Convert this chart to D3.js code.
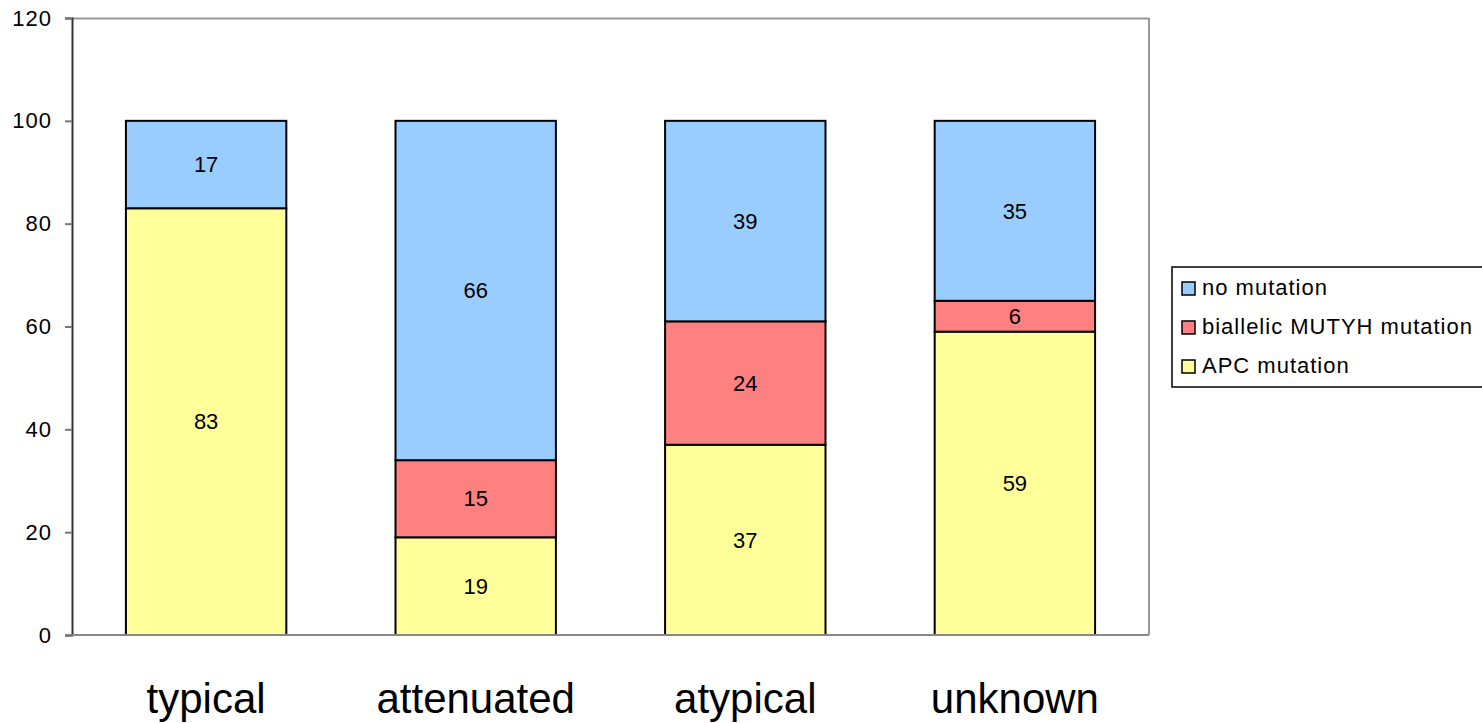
<!DOCTYPE html>
<html><head><meta charset="utf-8">
<script src="https://cdn.jsdelivr.net/npm/d3@7"></script>
<style>body{margin:0;background:#fff}svg{display:block}text{font-family:"Liberation Sans",Arial,sans-serif}</style>
</head><body><svg id="c" width="1482" height="723"></svg>
<script>
const categories = ["typical","attenuated","atypical","unknown"];
const apc = [83,19,37,59];
const mutyh = [0,15,24,6];
const none = [17,66,39,35];
const seriesNames = ["APC mutation","biallelic MUTYH mutation","no mutation"];
const seriesColors = ["#FFFF99","#FF8080","#99CCFF"];
const yTicks = [0,20,40,60,80,100,120];

const svg = d3.select("#c");
const L=72, R=1149, T=18, B=635;
const x = d3.scaleBand().domain(categories).range([L,R]).paddingInner(0.405).paddingOuter(0.2);
const y = d3.scaleLinear().domain([0,120]).range([B,T]);

const rows = categories.map((c,i)=>({cat:c, apc:apc[i], mutyh:mutyh[i], none:none[i]}));
const stack = d3.stack().keys(["apc","mutyh","none"])(rows);

// plot frame
svg.append("line").attr("x1",L).attr("x2",R).attr("y1",T+0.5).attr("y2",T+0.5).attr("stroke","#999").attr("stroke-width",2);
svg.append("line").attr("x1",R).attr("x2",R).attr("y1",T).attr("y2",B).attr("stroke","#999").attr("stroke-width",2);

stack.forEach((s,si)=>{
  svg.append("g").selectAll("rect").data(s.filter(d=>d[1]-d[0]>0)).join("rect")
    .attr("x",d=>x(d.data.cat)).attr("width",x.bandwidth())
    .attr("y",d=>y(d[1])).attr("height",d=>y(d[0])-y(d[1]))
    .attr("fill",seriesColors[si]).attr("stroke","#000").attr("stroke-width",2);
  svg.append("g").selectAll("text").data(s.filter(d=>d[1]-d[0]>0)).join("text")
    .attr("x",d=>x(d.data.cat)+x.bandwidth()/2).attr("y",d=>(y(d[0])+y(d[1]))/2)
    .attr("dy","0.35em").attr("text-anchor","middle").attr("font-size",22).attr("fill","#000")
    .text(d=>d[1]-d[0]);
});

// axes
const ya = svg.append("g").attr("transform",`translate(${L},0)`)
  .call(d3.axisLeft(y).tickValues(yTicks).tickSize(7).tickPadding(13));
ya.select(".domain").attr("stroke","#333").attr("stroke-width",2);
ya.selectAll(".tick line").attr("stroke","#777").attr("stroke-width",2);
ya.selectAll(".tick text").attr("font-size",22).attr("letter-spacing","1px").attr("fill","#000").style("font-family","'Liberation Sans',Arial,sans-serif");

const xa = svg.append("g").attr("transform",`translate(0,${B})`)
  .call(d3.axisBottom(x).tickSize(0));
xa.select(".domain").attr("stroke","#888").attr("stroke-width",2).attr("d",`M${L},0H${R}`);
xa.selectAll(".tick text").attr("y",78).attr("dy",null).attr("font-size",42).attr("fill","#000").style("font-family","'Liberation Sans',Arial,sans-serif");

// legend
const lg = svg.append("g");
lg.append("rect").attr("x",1172).attr("y",267).attr("width",320).attr("height",120).attr("fill","#fff").attr("stroke","#000").attr("stroke-width",1.5);
const legendOrder = [2,1,0];
legendOrder.forEach((si,k)=>{
  const yy = 288 + k*39;
  lg.append("rect").attr("x",1182).attr("y",yy-6).attr("width",13).attr("height",13).attr("fill",seriesColors[si]).attr("stroke","#000").attr("stroke-width",1.5);
  lg.append("text").attr("x",1202).attr("y",yy+7).attr("font-size",22).attr("letter-spacing","1px").attr("fill","#000").text(seriesNames[si]);
});
</script></body></html>
